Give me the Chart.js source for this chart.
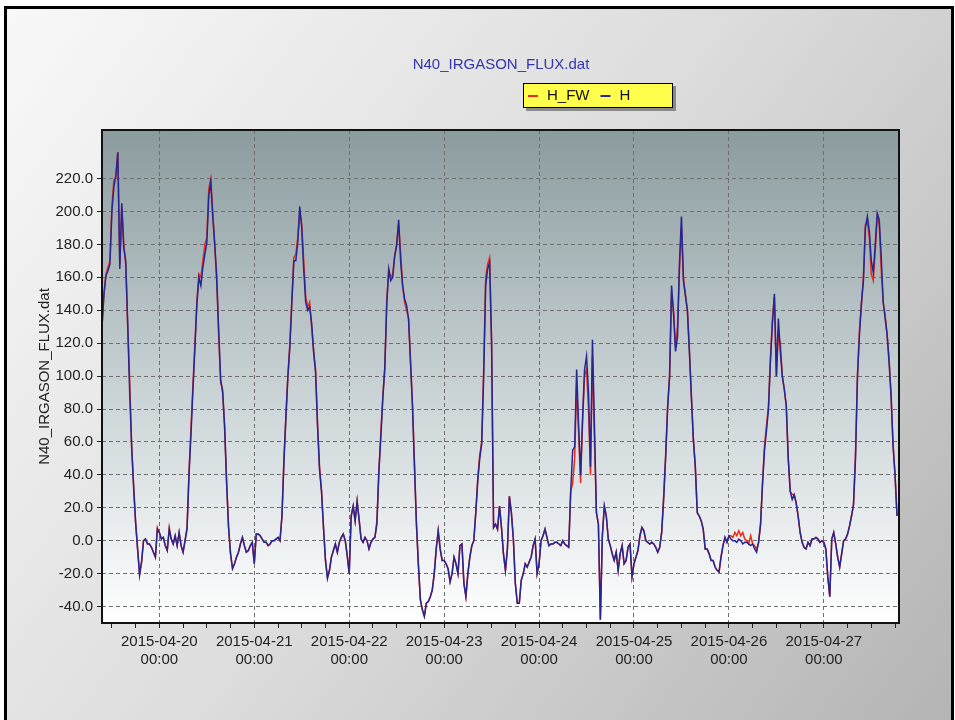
<!DOCTYPE html>
<html>
<head>
<meta charset="utf-8">
<script src="https://cdn.jsdelivr.net/npm/chart.js@4/dist/chart.umd.min.js"></script>
<style>
html,body{margin:0;padding:0;background:#fff;}
#wrap{position:relative;width:955px;height:720px;}
</style>
</head>
<body>
<div id="wrap"><canvas id="c" width="955" height="720"></canvas></div>
<script>
// ---- data (hours relative to 2015-04-20 00:00, one sample every 30 minutes) ----
const chartTitle = 'N40_IRGASON_FLUX.dat';
const yAxisTitle = 'N40_IRGASON_FLUX.dat';
const seriesNames = ['H_FW', 'H'];
const startHour = -14.5;   // 2015-04-19 09:30
const stepHours = 0.5;
const dayTickLabels = ['2015-04-20','2015-04-21','2015-04-22','2015-04-23','2015-04-24','2015-04-25','2015-04-26','2015-04-27'];
const dayTickTimes = ['00:00','00:00','00:00','00:00','00:00','00:00','00:00','00:00'];
const yTickValues = [-40,-20,0,20,40,60,80,100,120,140,160,180,200,220];

const hValues = [
  // 2015-04-19 09:30 .. 23:30
  130,150,161,164,168,200,215,222,236,165,205,178,170,132,90,57,32,11,-5,-21,-13,0,1,-2,-2,-4,-7,-10,7,
  // 2015-04-20
  5,1,2,-3,-6,7,1,-2,3,-3, 5,-3,-7,0,7,40,65,92,118,144, 160,155,166,174,181,210,218,197,181,158,
  128,98,90,70,35,8,-8,-17,-14,-10, -7,-2,2,-3,-7,-6,-3,-1,
  // 2015-04-21
  -14,4,4,3,1,-1,-1,-3,-2,0, 0,1,2,0,15,48,75,100,118,145, 170,170,182,203,190,165,145,140,142,132,
  115,102,70,43,30,8,-12,-23,-18,-10, -6,-2,-7,-1,2,4,0,-9,
  // 2015-04-22
  -20,15,21,12,24,13,1,-1,2,0, -5,-1,1,2,10,42,63,87,105,144, 165,158,160,173,179,195,170,155,147,143,
  135,108,82,45,10,-15,-36,-42,-46,-38, -37,-34,-30,-20,-5,6,-5,-12,
  // 2015-04-23
  -12,-14,-17,-25,-20,-10,-14,-20,-3,-2, -26,-34,-20,-10,-3,0,17,36,50,59, 100,155,165,169,120,8,10,7,21,8,
  -8,-18,-5,27,17,1,-26,-38,-38,-24, -20,-14,-16,-13,-10,-3,1,-20,
  // 2015-04-24
  -14,0,3,7,2,-3,-2,-2,-1,-1, -2,-3,0,-2,-3,-4,30,55,57,104, 70,40,75,104,112,90,45,122,70,17,
  10,-48,3,21,15,1,-3,-8,-12,-7, -18,-8,-3,-14,-12,-4,-2,-22,
  // 2015-04-25
  -14,-10,-6,3,8,6,0,-1,-2,-1, -2,-4,-7,-4,5,25,51,80,100,155, 138,115,124,169,197,158,149,140,115,88,
  62,45,17,15,12,7,-5,-5,-8,-12, -12,-16,-18,-19,-10,-3,2,-1,
  // 2015-04-26
  3,1,0,0,-1,1,0,-2,-1,-1, -2,-3,-2,-5,-7,-1,10,35,55,67, 80,110,132,150,100,135,115,100,92,82,
  50,30,25,28,23,15,5,-1,-4,-5, -1,-3,1,1,2,1,-1,0,
  // 2015-04-27 00:00 .. 18:30
  -1,-5,-22,-34,1,5,-2,-10,-16,-8, 0,1,4,9,15,22,50,100,125,144, 158,190,197,188,170,163,180,199,195,173,
  145,135,125,108,88,58,40,15
];
const hfwValues = [
  130,150,162,166,170,203,219,220,236,168,203,180,168,130,97,57,34,11,-5,-20,-13,0,1,-2,-2,-4,-7,-10,8,
  5,1,2,-3,-6,8,1,-2,3,-3, 5,-3,-7,0,8,42,68,95,120,146, 162,160,170,180,184,214,220,200,178,163,
  124,96,92,68,37,8,-8,-17,-14,-10, -7,-2,2,-3,-7,-6,-3,-1,
  -14,4,4,3,1,-1,-1,-3,-2,0, 0,1,2,0,15,50,76,100,120,146, 172,174,184,200,192,170,148,142,145,130,
  115,104,70,45,30,8,-12,-22,-18,-10, -6,-2,-7,-1,2,4,0,-9,
  -20,15,21,12,24,13,1,-1,2,0, -5,-1,1,2,12,42,66,87,105,146, 165,160,162,173,181,192,175,155,145,140,
  135,110,82,47,10,-15,-36,-42,-46,-38, -37,-34,-30,-20,-5,6,-5,-12,
  -12,-14,-17,-25,-20,-10,-14,-20,-3,-2, -26,-34,-20,-10,-3,0,17,38,52,60, 104,160,168,172,120,8,10,7,21,8,
  -8,-18,-5,27,17,1,-26,-38,-38,-24, -20,-14,-16,-13,-10,-3,1,-20,
  -14,0,3,7,2,-3,-2,-2,-1,-1, -2,-3,0,-2,-3,-4,30,35,50,95, 65,35,72,100,104,80,40,112,62,17,
  10,-48,3,21,15,1,-3,-8,-12,-7, -18,-8,-3,-14,-12,-4,-2,-22,
  -14,-10,-6,3,8,6,0,-1,-2,-1, -2,-4,-7,-4,5,27,51,82,100,150, 140,118,130,165,190,160,149,140,117,88,
  62,45,17,15,12,7,-5,-5,-8,-12, -12,-16,-18,-19,-10,-3,2,-1,
  3,3,2,5,3,6,3,5,1,0, -2,3,-2,-3,-5,-1,10,35,58,70, 82,110,135,148,100,125,120,100,92,82,
  50,30,28,28,23,15,5,-1,-4,-5, -1,-3,1,1,2,1,-1,0,
  -1,-5,-22,-34,1,5,-2,-10,-16,-8, 0,1,4,9,15,22,52,100,128,144, 160,192,194,184,162,158,176,197,192,165,
  145,137,125,110,88,58,40,15
];

// ---- chart ----
const FONT = "'Liberation Sans', Arial, sans-serif";
const toPoints = arr => arr.map((v, i) => ({x: startHour + i * stepHours, y: v}));

const decor = {
  id: 'decor',
  beforeDraw(chart) {
    const ctx = chart.ctx, W = chart.width, H = chart.height, a = chart.chartArea;
    ctx.save();
    ctx.fillStyle = '#ffffff';
    ctx.fillRect(0, 0, W, H);
    const g = ctx.createLinearGradient(0, 0, W, H);
    g.addColorStop(0, '#f9f9f9');
    g.addColorStop(0.5, '#dcdcdc');
    g.addColorStop(1, '#b4b4b4');
    ctx.fillStyle = g;
    ctx.fillRect(7, 9, W - 11, H - 9);
    ctx.strokeStyle = '#000';
    ctx.lineWidth = 3;
    ctx.beginPath();
    ctx.moveTo(5.5, H); ctx.lineTo(5.5, 7.5); ctx.lineTo(W - 2.5, 7.5); ctx.lineTo(W - 2.5, H);
    ctx.stroke();
    const pg = ctx.createLinearGradient(0, a.top, 0, a.bottom);
    pg.addColorStop(0, '#8b9c9e');
    pg.addColorStop(0.5, '#c6d0d3');
    pg.addColorStop(1, '#ffffff');
    ctx.fillStyle = pg;
    ctx.fillRect(a.left, a.top, a.right - a.left, a.bottom - a.top);
    ctx.restore();
  },
  afterDraw(chart) {
    const ctx = chart.ctx, a = chart.chartArea;
    ctx.save();
    ctx.strokeStyle = '#111';
    ctx.lineWidth = 2;
    ctx.strokeRect(a.left, a.top, a.right - a.left, a.bottom - a.top);
    ctx.font = '15px ' + FONT;
    ctx.fillStyle = '#3535ad';
    ctx.textAlign = 'center';
    ctx.textBaseline = 'middle';
    ctx.fillText(chartTitle, 501, 65);
    const lx = 523, ly = 83, lw = 150, lh = 25;
    ctx.fillStyle = 'rgba(70,70,70,0.55)';
    ctx.fillRect(lx + 3, ly + 3, lw, lh);
    ctx.fillStyle = '#ffff4c';
    ctx.fillRect(lx, ly, lw, lh);
    ctx.strokeStyle = '#000';
    ctx.lineWidth = 1;
    ctx.strokeRect(lx + 0.5, ly + 0.5, lw - 1, lh - 1);
    let x = lx + 5;
    const cy = ly + 13;
    ctx.textAlign = 'left';
    chart.data.datasets.forEach(ds => {
      ctx.strokeStyle = ds.borderColor;
      ctx.lineWidth = 2;
      ctx.beginPath(); ctx.moveTo(x, cy); ctx.lineTo(x + 10, cy); ctx.stroke();
      ctx.fillStyle = '#111';
      ctx.fillText(ds.label, x + 19, cy);
      x += 19 + ctx.measureText(ds.label).width + 11;
    });
    ctx.restore();
  }
};

new Chart(document.getElementById('c'), {
  type: 'line',
  data: {
    datasets: [
      {label: seriesNames[0], data: toPoints(hfwValues), borderColor: '#f02a1a', borderWidth: 1.5, pointRadius: 0, tension: 0, order: 1},
      {label: seriesNames[1], data: toPoints(hValues), borderColor: '#262690', borderWidth: 1.5, pointRadius: 0, tension: 0, order: 0}
    ]
  },
  options: {
    responsive: false,
    animation: false,
    devicePixelRatio: 1,
    layout: {padding: {left: 32, top: 130, right: 56, bottom: 37}},
    plugins: {legend: {display: false}, title: {display: false}, tooltip: {enabled: false}},
    scales: {
      x: {
        type: 'linear',
        min: -14.5,
        max: 187,
        afterBuildTicks: s => { const t = []; for (let h = -12; h <= 186; h += 6) t.push({value: h}); s.ticks = t; },
        afterFit: s => { s.height = 60; },
        ticks: {
          autoSkip: false, maxRotation: 0, minRotation: 0, padding: 5, color: '#222',
          font: {family: FONT, size: 15},
          callback: v => (v % 24 === 0 && v >= 0) ? [dayTickLabels[v / 24], dayTickTimes[v / 24]] : ''
        },
        grid: {
          color: c => (c.tick && c.tick.value % 24 === 0) ? '#6f6f6f' : 'rgba(0,0,0,0)',
          tickColor: '#222', tickLength: 5, lineWidth: 1
        },
        border: {display: false, dash: [4, 3]}
      },
      y: {
        type: 'linear',
        min: -50,
        max: 249.5,
        afterBuildTicks: s => { s.ticks = yTickValues.map(v => ({value: v})); },
        afterFit: s => { s.width = 70; },
        ticks: {padding: 4, color: '#222', font: {family: FONT, size: 15}, callback: v => Number(v).toFixed(1)},
        grid: {color: '#6f6f6f', tickColor: '#222', tickLength: 5, lineWidth: 1},
        border: {display: false, dash: [4, 3]},
        title: {display: true, text: yAxisTitle, color: '#222', font: {family: FONT, size: 15}, padding: {top: 4, bottom: 2}}
      }
    }
  },
  plugins: [decor]
});
</script>
</body>
</html>
